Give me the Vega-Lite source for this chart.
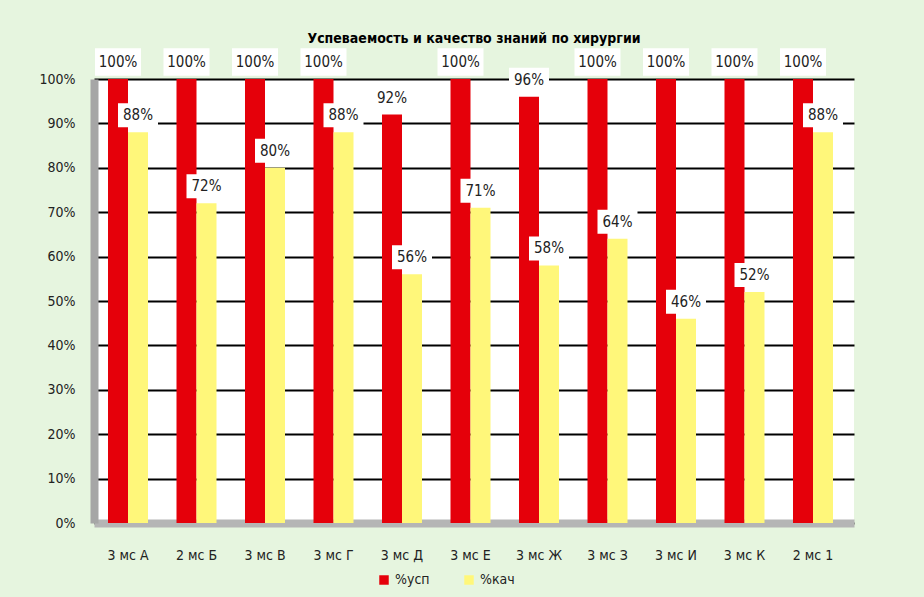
{
  "$schema": "https://vega.github.io/schema/vega-lite/v6.json",
  "width": 760,
  "height": 444,
  "autosize": "none",
  "padding": {"left": 94, "top": 79, "right": 70, "bottom": 74},
  "background": "#e6f5df",
  "title": {
    "text": "Успеваемость и качество знаний по хирургии",
    "fontSize": 14,
    "fontWeight": "bold",
    "font": "'Liberation Sans Narrow', 'DejaVu Sans Condensed', sans-serif",
    "color": "#000000",
    "offset": 2
  },
  "config": {
    "view": {"fill": "white", "stroke": null},
    "font": "'Liberation Sans Narrow', 'DejaVu Sans Condensed', sans-serif"
  },
  "data": {
    "values": [
      {"group": "3 мс А", "series": "%усп", "value": 1.00},
      {"group": "3 мс А", "series": "%кач", "value": 0.88},
      {"group": "2 мс Б", "series": "%усп", "value": 1.00},
      {"group": "2 мс Б", "series": "%кач", "value": 0.72},
      {"group": "3 мс В", "series": "%усп", "value": 1.00},
      {"group": "3 мс В", "series": "%кач", "value": 0.80},
      {"group": "3 мс Г", "series": "%усп", "value": 1.00},
      {"group": "3 мс Г", "series": "%кач", "value": 0.88},
      {"group": "3 мс Д", "series": "%усп", "value": 0.92},
      {"group": "3 мс Д", "series": "%кач", "value": 0.56},
      {"group": "3 мс Е", "series": "%усп", "value": 1.00},
      {"group": "3 мс Е", "series": "%кач", "value": 0.71},
      {"group": "3 мс Ж", "series": "%усп", "value": 0.96},
      {"group": "3 мс Ж", "series": "%кач", "value": 0.58},
      {"group": "3 мс З", "series": "%усп", "value": 1.00},
      {"group": "3 мс З", "series": "%кач", "value": 0.64},
      {"group": "3 мс И", "series": "%усп", "value": 1.00},
      {"group": "3 мс И", "series": "%кач", "value": 0.46},
      {"group": "3 мс К", "series": "%усп", "value": 1.00},
      {"group": "3 мс К", "series": "%кач", "value": 0.52},
      {"group": "2 мс 1", "series": "%усп", "value": 1.00},
      {"group": "2 мс 1", "series": "%кач", "value": 0.88}
    ]
  },
  "encoding": {
    "x": {
      "field": "group",
      "type": "nominal",
      "sort": null,
      "scale": {"paddingInner": 0.416, "paddingOuter": 0.2555, "align": 0.4},
      "axis": {
        "title": null,
        "labelAngle": 0,
        "labelFontSize": 14,
        "labelColor": "#222222",
        "labelPadding": 25,
        "ticks": false,
        "domainColor": "#b5b5b5",
        "domainWidth": 8
      }
    },
    "xOffset": {"field": "series", "type": "nominal", "sort": ["%усп", "%кач"]},
    "y": {
      "field": "value",
      "type": "quantitative",
      "scale": {"domain": [0, 1], "nice": false},
      "axis": {
        "title": null,
        "format": ".0%",
        "values": [0, 0.1, 0.2, 0.3, 0.4, 0.5, 0.6, 0.7, 0.8, 0.9, 1],
        "labelFontSize": 14,
        "labelColor": "#222222",
        "labelPadding": 19,
        "ticks": false,
        "grid": true,
        "gridColor": "#000000",
        "gridWidth": 2,
        "domainColor": "#a6a6a6",
        "domainWidth": 8
      }
    }
  },
  "layer": [
    {
      "mark": {"type": "bar"},
      "encoding": {
        "color": {
          "field": "series",
          "type": "nominal",
          "scale": {"domain": ["%усп", "%кач"], "range": ["#e5000a", "#fff77a"]},
          "legend": {
            "title": null,
            "orient": "none",
            "direction": "horizontal",
            "legendX": 283,
            "legendY": 494,
            "symbolType": "square",
            "symbolSize": 90,
            "labelFontSize": 14,
            "labelColor": "#222222",
            "columnPadding": 32
          }
        }
      }
    },
    {
      "mark": {
        "type": "point",
        "shape": "M-1,-0.6H1V0.6H-1Z",
        "filled": true,
        "color": "white",
        "opacity": 1,
        "yOffset": -17
      },
      "encoding": {
        "size": {"condition": {"test": "datum.value >= 1", "value": 2116}, "value": 1600}
      }
    },
    {
      "mark": {"type": "text", "dy": -17, "fontSize": 15, "color": "#222222", "baseline": "middle"},
      "encoding": {
        "text": {"field": "value", "type": "quantitative", "format": ".0%"}
      }
    }
  ]
}
